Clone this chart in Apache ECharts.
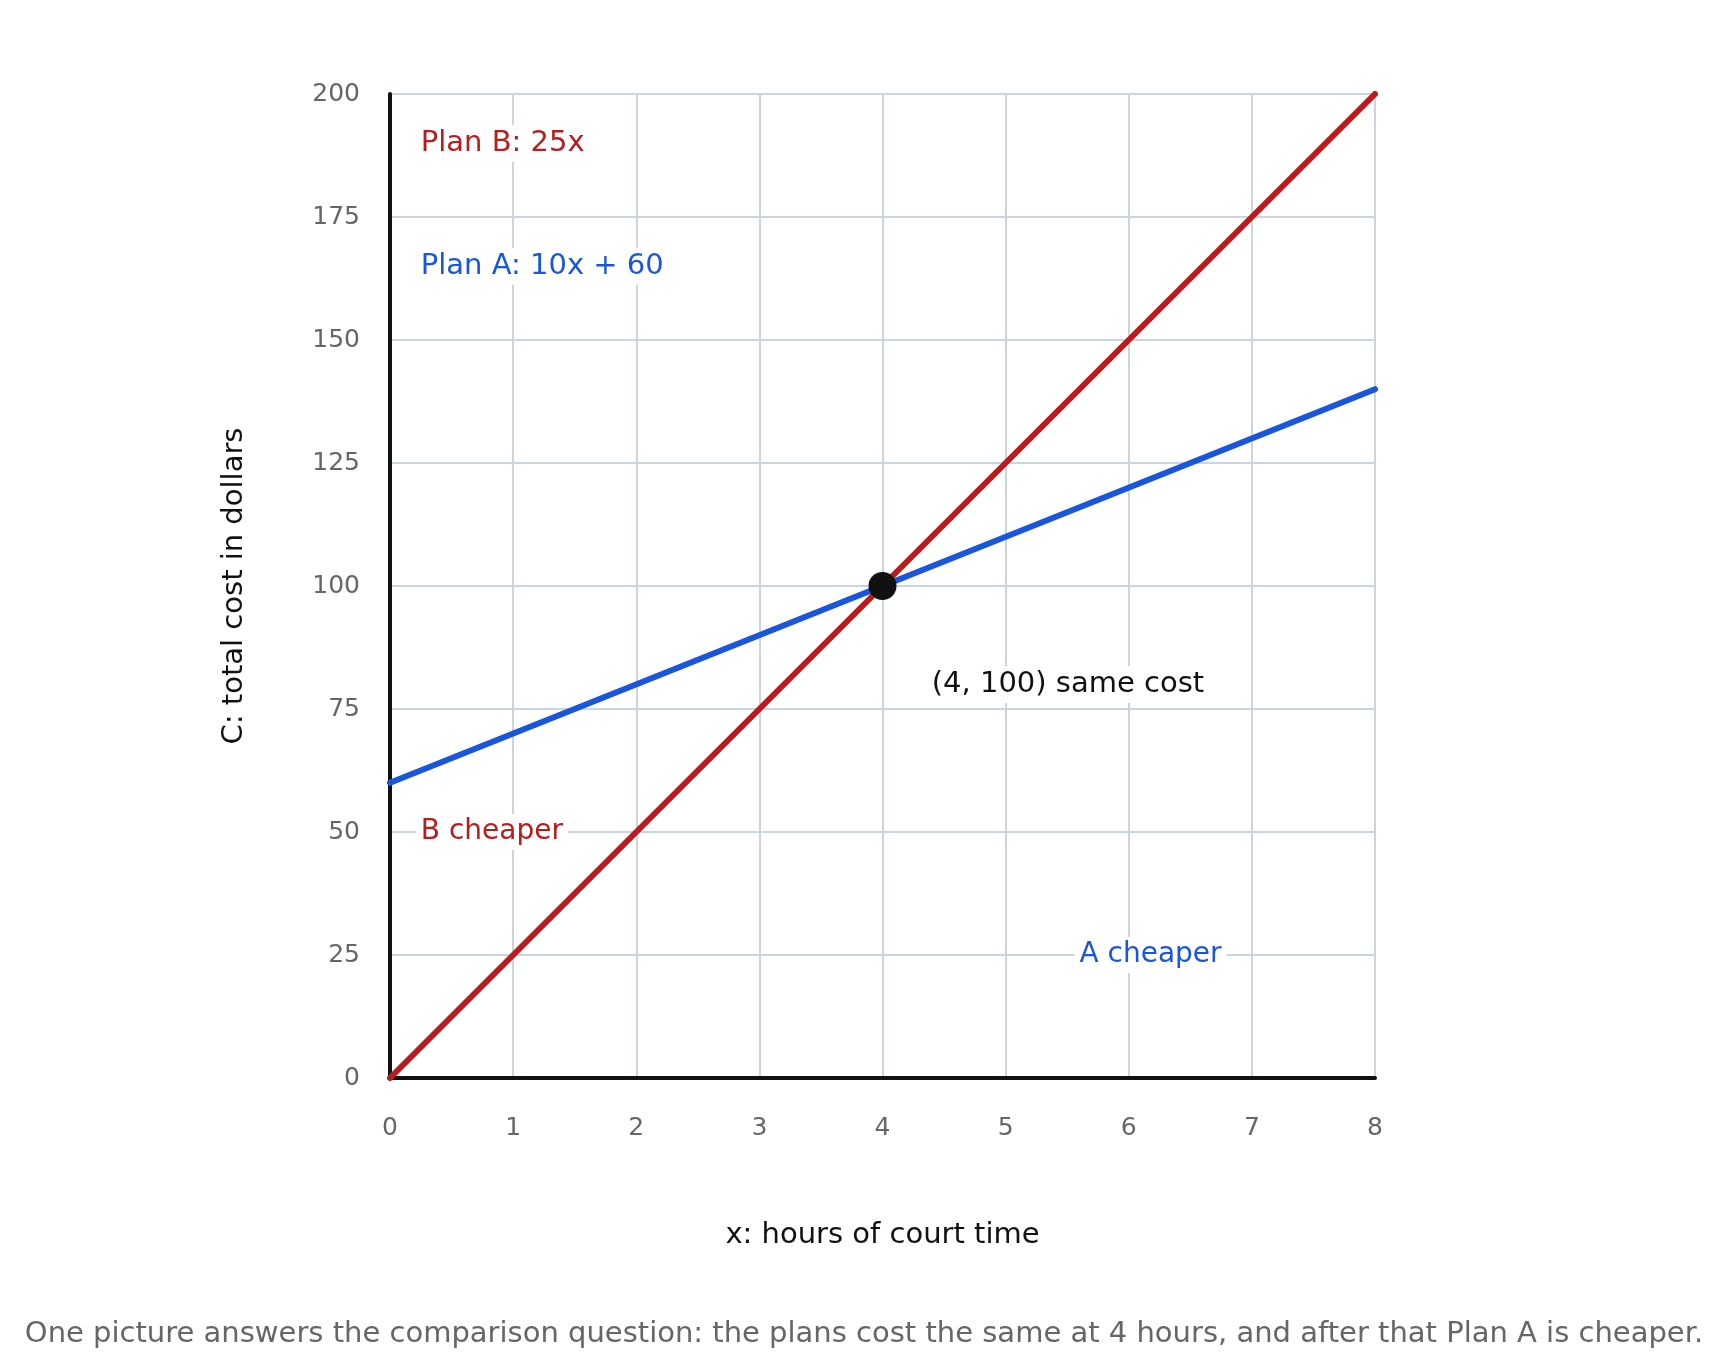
<!DOCTYPE html>
<html>
<head>
<meta charset="utf-8">
<script src="https://cdn.jsdelivr.net/npm/echarts@6/dist/echarts.min.js"></script>
<style>
  html, body { margin: 0; padding: 0; background: #fff; }
  #chart { width: 1728px; height: 1367px; }
</style>
</head>
<body>
<div id="chart"></div>
<script>
// data
var hours = [0, 8];
var planA = [60, 140];   // 10x + 60
var planB = [0, 200];    // 25x
var meet = [4, 100];
var yTicks = [0, 25, 50, 75, 100, 125, 150, 175, 200];

var noteText = ['Plan B: 25x', 'Plan A: 10x + 60', 'B cheaper', 'A cheaper', '(4, 100) same cost'];
var noteX = [0.25, 0.25, 0.25, 5.6, 4.4];
var noteY = [190, 165, 50, 25, 80];
var noteColor = ['#b91c1c', '#1a56db', '#b91c1c', '#1a56db', '#111111'];
var noteSize = [29, 29, 28, 28, 29];

var RED = '#b91c1c', BLUE = '#1a56db';
var FONT = 'DejaVu Sans';

var chart = echarts.init(document.getElementById('chart'));

function pairs(xs, ys) {
    return xs.map(function (x, i) { return [x, ys[i]]; });
}

var noteSeries = noteText.map(function (t, i) {
    return {
        type: 'scatter',
        symbolSize: 0,
        silent: true,
        z: 5,
        data: [[noteX[i], noteY[i]]],
        itemStyle: { opacity: 1 },
        label: {
            show: true,
            position: 'right',
            distance: -5,
            formatter: t,
            color: noteColor[i],
            opacity: 1,
            fontFamily: FONT,
            fontSize: noteSize[i],
            backgroundColor: '#ffffff',
            padding: [4, 5]
        }
    };
});

var option = {
    animation: false,
    title: {
        text: 'One picture answers the comparison question: the plans cost the same at 4 hours, and after that Plan A is cheaper.',
        left: 'center',
        top: 1315,
        textStyle: { color: '#666666', fontSize: 29, fontWeight: 'normal', fontFamily: FONT }
    },
    grid: { left: 390, top: 94, width: 985, height: 984, containLabel: false },
    xAxis: {
        type: 'value',
        min: 0, max: 8, interval: 1,
        name: 'x: hours of court time',
        nameLocation: 'middle',
        nameGap: 143,
        nameTextStyle: { color: '#111111', fontSize: 29, fontFamily: FONT },
        axisLine: { show: true, lineStyle: { color: '#111111', width: 4 } },
        axisTick: { show: false },
        axisLabel: { color: '#666666', fontSize: 25, fontFamily: FONT, margin: 38 },
        splitLine: { show: true, lineStyle: { color: '#cbd5e1', width: 2 } }
    },
    yAxis: {
        type: 'value',
        min: yTicks[0], max: yTicks[yTicks.length - 1], interval: 25,
        name: 'C: total cost in dollars',
        nameLocation: 'middle',
        nameGap: 141,
        nameTextStyle: { color: '#111111', fontSize: 29, fontFamily: FONT },
        axisLine: { show: true, lineStyle: { color: '#111111', width: 4 } },
        axisTick: { show: false },
        axisLabel: { color: '#666666', fontSize: 25, fontFamily: FONT, margin: 30 },
        splitLine: { show: true, lineStyle: { color: '#cbd5e1', width: 2 } }
    },
    series: [
        {
            name: 'Plan A',
            type: 'line',
            data: pairs(hours, planA),
            symbol: 'none',
            z: 3,
            lineStyle: { color: BLUE, width: 6, cap: 'round' }
        },
        {
            name: 'Plan B',
            type: 'line',
            data: pairs(hours, planB),
            symbol: 'none',
            z: 3,
            lineStyle: { color: RED, width: 6, cap: 'round' }
        },
        {
            type: 'scatter',
            data: [meet],
            symbolSize: 28,
            z: 4,
            itemStyle: { color: '#111111', opacity: 1 }
        }
    ].concat(noteSeries)
};

chart.setOption(option);
window.addEventListener('resize', function () {
    chart.resize();
});
</script>
</body>
</html>
